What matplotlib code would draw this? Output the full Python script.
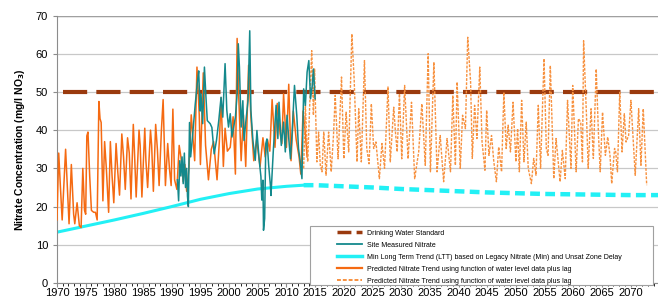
import matplotlib
matplotlib.use("Agg")
import matplotlib.pyplot as plt
from matplotlib.patches import Rectangle
from matplotlib.lines import Line2D

plt.rcParams['font.family'] = ['Liberation Sans', 'DejaVu Sans']

# ---------------- data ----------------
standard_value = 50
standard_years = [1971, 2075]

ltt_years_solid = [1970, 1975, 1980, 1985, 1990, 1995, 2000, 2005, 2010, 2013]
ltt_vals_solid = [13.3, 14.9, 16.5, 18.2, 20.0, 21.9, 23.4, 24.6, 25.3, 25.6]
ltt_years_dash = [2013, 2015, 2020, 2025, 2030, 2035, 2040, 2045, 2050, 2055, 2060, 2065, 2070, 2075]
ltt_vals_dash = [25.6, 25.6, 25.3, 25.0, 24.6, 24.3, 24.0, 23.7, 23.5, 23.3, 23.2, 23.1, 23.0, 23.0]

pred_years = [1970.0, 1970.3, 1970.6, 1970.9, 1971.5, 1971.9, 1972.1, 1972.5, 1972.9, 1973.1,
              1973.5, 1973.9, 1974.2, 1974.5, 1974.8, 1975.0, 1975.2, 1975.4, 1975.7, 1976.0,
              1976.4, 1976.7, 1977.0, 1977.3, 1977.5, 1977.7, 1978.0, 1978.3, 1978.6, 1979.0,
              1979.3, 1979.6, 1979.9, 1980.3, 1980.6, 1980.9, 1981.3, 1981.6, 1981.9, 1982.3,
              1982.6, 1982.9, 1983.3, 1983.5, 1983.8, 1984.3, 1984.5, 1984.8, 1985.3, 1985.5,
              1985.8, 1986.3, 1986.5, 1986.8, 1987.2, 1987.5, 1987.8, 1988.2, 1988.5, 1988.9,
              1989.3, 1989.6, 1989.9, 1990.2, 1990.5, 1990.9, 1991.3, 1991.6, 1992.0, 1992.3,
              1992.6, 1993.0, 1993.4, 1993.7, 1994.0, 1994.4, 1994.8, 1995.0, 1995.5, 1995.9,
              1996.4, 1996.9, 1997.3, 1997.9, 1998.3, 1998.6, 1999.0, 1999.3, 1999.7, 2000.2,
              2000.7, 2001.1, 2001.4, 2001.7, 2002.1, 2002.5, 2002.9, 2003.4, 2003.8, 2004.3,
              2004.8, 2005.4, 2005.9, 2006.3, 2006.7, 2007.1, 2007.5, 2008.0, 2008.4, 2008.9,
              2009.2, 2009.5, 2010.0, 2010.4, 2010.8, 2011.2, 2011.7, 2012.2, 2012.5, 2012.9,
              2013.3, 2013.6]
pred_vals = [16.5, 34, 25, 16.5, 35, 22, 15.5, 31, 18, 15.5,
             21, 15, 14.5, 30, 19, 18, 38.5, 39.5, 28, 19,
             18.5, 18.5, 16.5, 47.5, 43, 42, 21.5, 37, 30, 18.5,
             37, 28, 21, 36.5, 29, 23, 39, 33, 24.5, 38,
             34, 22, 41.5, 34.5, 22.5, 40, 36, 22.5, 40.5, 32,
             25, 40, 36, 24, 41.5, 35, 25.5, 40, 48, 25.5,
             36.5, 30, 25.5, 45.5, 27, 24.5, 36, 33, 26.5, 31,
             24, 30, 44, 38, 32, 56.5, 44, 31, 55, 36,
             27, 35, 37, 27, 37, 48.5, 30.5, 40.5, 34.5, 35.5,
             43.5, 28.5, 64, 48, 32, 44, 30.5, 57, 43.5, 32,
             37.5, 30.5, 38, 33, 37.5, 34.5, 48, 35.5, 47, 39,
             36.5, 49.5, 35.5, 52, 32, 45, 37.5, 33, 28.5, 45,
             39, 33]

fut_years = [2013.0, 2013.3, 2013.7, 2014.15, 2014.4, 2014.7, 2014.9, 2015.3, 2015.6, 2015.9,
             2016.2, 2016.5, 2016.9, 2017.35, 2017.8, 2018.2, 2018.5, 2019.0, 2019.6, 2020.0,
             2020.4, 2020.85, 2021.4, 2021.8, 2022.3, 2022.6, 2023.05, 2023.6, 2024.0, 2024.4,
             2024.8, 2025.2, 2025.6, 2026.2, 2026.65, 2027.1, 2027.7, 2028.1, 2028.7, 2029.0,
             2029.3, 2029.7, 2030.1, 2030.6, 2031.2, 2031.8, 2032.35, 2033.05, 2033.6, 2034.2,
             2034.7, 2035.1, 2035.7, 2036.25, 2036.8, 2037.4, 2038.0, 2038.6, 2039.0, 2039.45,
             2039.75, 2040.3, 2040.7, 2041.2, 2041.6, 2042.1, 2042.4, 2042.8, 2043.2, 2043.7,
             2044.1, 2044.6, 2044.9, 2045.3, 2045.75, 2046.15, 2046.6, 2047.0, 2047.5, 2047.9,
             2048.3, 2048.65, 2049.05, 2049.5, 2050.0, 2050.3, 2050.6, 2051.0, 2051.4, 2051.8,
             2052.15, 2052.7, 2053.1, 2053.5, 2053.9, 2054.3, 2054.9, 2055.3, 2055.6, 2056.0,
             2056.6, 2057.0, 2057.7, 2058.1, 2058.6, 2059.0, 2059.6, 2059.9, 2060.5, 2060.9,
             2061.3, 2061.6, 2061.8, 2062.3, 2062.6, 2063.1, 2063.5, 2064.0, 2064.4, 2064.7,
             2065.1, 2065.6, 2066.0, 2066.4, 2066.7, 2067.2, 2067.4, 2067.7, 2068.1, 2068.5,
             2068.9, 2069.2, 2069.65, 2070.05, 2070.8, 2071.4, 2071.8, 2072.2, 2072.8]
fut_vals = [30, 46.5, 31.7, 50.8, 60.8, 43.9, 56.0, 31.7, 39.5, 30.8,
            29.1, 39.5, 28.2, 39.5, 29.1, 38.6, 49.1, 32.5, 53.9, 32.5,
            44.7, 34.3, 65.2, 53.4, 31.7, 45.6, 31.7, 58.2, 35.2, 31.2,
            46.9, 35.2, 36.9, 27.3, 36.5, 30.0, 51.3, 31.7, 46.0, 39.5,
            34.3, 49.5, 32.5, 51.7, 32.5, 47.3, 27.3, 34.3, 46.9, 30.8,
            60.0, 29.1, 57.8, 29.1, 38.6, 26.5, 37.8, 29.1, 49.1, 30.8,
            52.6, 30.0, 43.9, 40.4, 64.3, 52.6, 32.6, 46.5, 37.8, 56.5,
            36.9, 29.5, 45.2, 33.4, 38.6, 31.7, 26.5, 35.6, 29.1, 49.9,
            35.2, 41.3, 34.3, 47.3, 31.7, 40.4, 29.1, 47.8, 31.7, 42.1,
            30.0, 26.0, 32.6, 28.2, 46.5, 30.0, 58.7, 35.2, 33.4, 56.9,
            27.3, 37.8, 26.5, 34.7, 27.3, 47.8, 30.0, 51.7, 29.1, 43.0,
            42.1, 31.7, 63.4, 43.9, 30.0, 45.6, 32.6, 56.0, 38.6, 29.1,
            44.7, 33.4, 38.2, 33.4, 26.0, 35.2, 34.3, 29.1, 49.9, 34.3,
            44.3, 36.9, 38.6, 47.8, 28.2, 45.6, 30.8, 45.6, 25.6]

site_years = [1991.0, 1991.2, 1991.4, 1991.6, 1991.8, 1992.0, 1992.2, 1992.4, 1992.6, 1992.75,
              1992.9, 1993.1, 1993.3, 1993.6, 1994.1, 1994.5, 1994.7, 1994.95, 1995.1, 1995.4,
              1995.7, 1996.0, 1996.2, 1996.7, 1997.0, 1997.4, 1997.8, 1998.2, 1998.6, 1998.9,
              1999.3, 1999.6, 1999.9, 2000.2, 2000.5, 2000.8, 2001.1, 2001.4, 2001.6, 2001.8,
              2002.1, 2002.4, 2002.6, 2003.0, 2003.3, 2003.6, 2003.8, 2004.15, 2004.56, 2004.85,
              2005.25, 2005.55, 2005.7, 2005.9, 2006.0, 2006.2, 2006.4, 2006.6, 2006.9, 2007.2,
              2007.3, 2007.7, 2008.2, 2008.5, 2008.7, 2009.1, 2009.5, 2009.8, 2010.1, 2010.4,
              2010.7, 2011.0, 2011.4, 2011.8, 2012.1, 2012.4, 2012.7, 2013.0, 2013.3, 2013.6,
              2013.9, 2014.2, 2014.5, 2014.7, 2015.0]
site_vals = [27, 21.5, 32, 28, 33, 26, 34, 25, 30, 22.7,
             20, 42, 33, 38, 46.8, 53, 55.5, 45, 49.5, 41.7,
             56.5, 47.7, 42.5, 41.7, 40.7, 33.8, 37.3, 42.5, 48.6, 43.4,
             57.4, 45.2, 40.8, 44.3, 38.2, 40.8, 43.4, 49.5, 62.6, 56.5,
             40.8, 47.7, 37.3, 43.4, 47.7, 66, 45.2, 37.3, 32.1, 39.9,
             32.1, 27.8, 21.7, 26.9, 13.8, 16.9, 36.5, 37.7, 30.8, 25.6,
             22.9, 34.4, 46.5, 37.8, 47.3, 36.0, 42.1, 34.3, 43.9, 37.8,
             32.5, 39.5, 51.7, 43.9, 35.2, 31.7, 27.3, 50.8, 46.5, 55.2,
             58.2, 48.2, 51.7, 56.0, 48.2]

legend_labels = ["Drinking Water Standard",
                 "Site Measured Nitrate",
                 "Min Long Term Trend (LTT) based on Legacy Nitrate (Min) and Unsat Zone Delay",
                 "Predicted Nitrate Trend using function of water level data plus lag",
                 "Predicted Nitrate Trend using function of water level data plus lag"]

c_std = "#9A3A0E"
c_site = "#14898C"
c_ltt = "#22F0F5"
c_pred = "#F56A12"
c_fut = "#F7913F"

# ---------------- figure ----------------
fig = plt.figure(figsize=(6.58, 3.0), dpi=100)
ax = fig.add_axes([57/658, 17/300, 1 - 57/658 + 0.002, (283-15.5)/300])

ax.set_xlim(1970, 2075)
ax.set_ylim(0, 70)
ax.set_yticks(range(0, 71, 10))
ax.set_xticks(range(1970, 2071, 5))
ax.set_xticks(range(1970, 2076, 1), minor=True)
ax.grid(axis='y', color='#C8C8C8', linewidth=0.9)
ax.set_axisbelow(True)
for s in ['top', 'right']:
    ax.spines[s].set_visible(False)
ax.spines['left'].set_color('#8C8C8C')
ax.spines['bottom'].set_color('#8C8C8C')
ax.tick_params(axis='both', labelsize=8, colors='#8C8C8C', labelcolor='black')
ax.tick_params(axis='y', length=3)
ax.tick_params(axis='x', which='major', length=3, pad=0.5)
ax.tick_params(axis='x', which='minor', length=2)
ax.axhline(70, color='#A0A0A0', linewidth=1.0, zorder=1)

ax.plot(ltt_years_solid, ltt_vals_solid, color=c_ltt, lw=2.2, zorder=2)
ax.plot(ltt_years_dash, ltt_vals_dash, color=c_ltt, lw=3.2, dashes=(2.2, 1.2), zorder=2)
ax.plot(standard_years, [standard_value] * 2, color=c_std, lw=3.0, dashes=(5.8, 2.2), zorder=3)
ax.plot(pred_years, pred_vals, color=c_pred, lw=1.1, zorder=4)
ax.plot(site_years, site_vals, color=c_site, lw=1.1, zorder=5)
ax.plot(fut_years, fut_vals, color=c_fut, lw=1.0, dashes=(2, 1), zorder=4)

ax.set_ylabel("Nitrate Concentration (mg/l NO$_\\mathbf{3}$)", fontsize=7.5,
              fontweight='bold', labelpad=6)

# legend box
box = Rectangle((310/658, 1 - 285/300), (653-310)/658, (285-226)/300,
                transform=fig.transFigure, facecolor='white', edgecolor='#A0A0A0',
                linewidth=0.8, zorder=10)
fig.add_artist(box)
handles = [Line2D([], [], color=c_std, lw=2.5, dashes=(4, 1.5)),
           Line2D([], [], color=c_site, lw=1.3),
           Line2D([], [], color=c_ltt, lw=2.5),
           Line2D([], [], color=c_pred, lw=1.6),
           Line2D([], [], color=c_fut, lw=1.4, dashes=(2, 1))]
leg = fig.legend(handles, legend_labels, loc='upper left',
                 bbox_to_anchor=(336/658, 1 - 228.5/300), frameon=False,
                 fontsize=5.0, handlelength=3.6, handletextpad=0.7,
                 labelspacing=0.73, borderpad=0.15, borderaxespad=0)
leg.set_zorder(11)

fig.savefig("out.png", dpi=100)
